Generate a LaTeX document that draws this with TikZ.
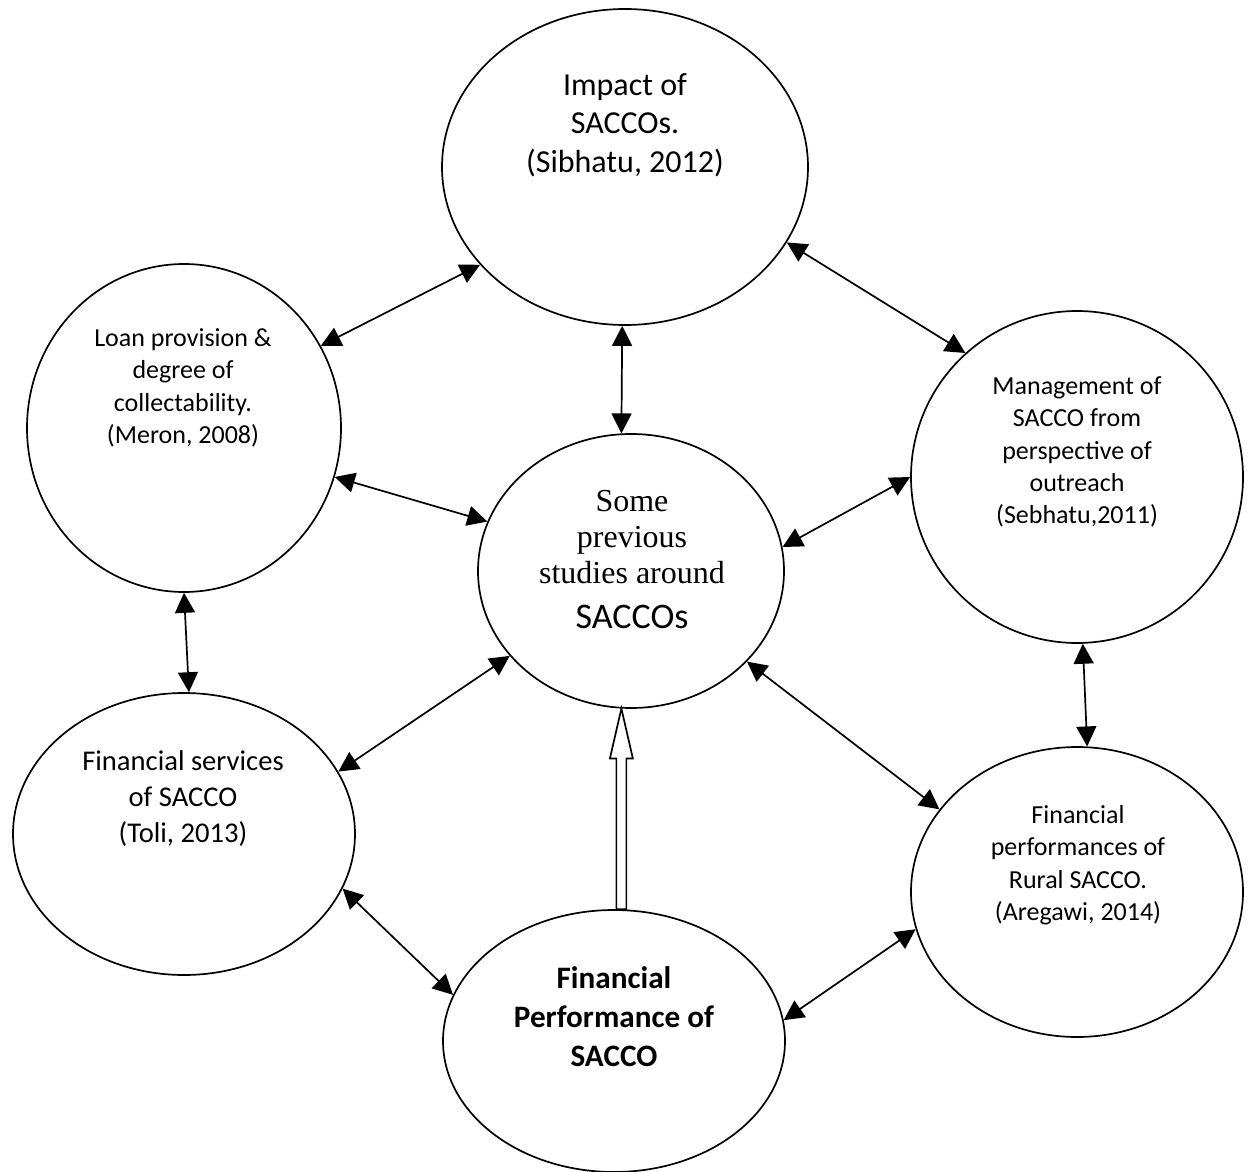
\documentclass[tikz,border=0pt]{standalone}
\usepackage{fontspec}
\setmainfont{Carlito}
\newfontfamily\serifface{Liberation Serif}
\usetikzlibrary{shapes.geometric,arrows.meta,calc}
\begin{document}
\begin{tikzpicture}[x=0.5pt,y=-0.5pt,
  oval/.style={draw, ellipse, line width=0.85pt, inner sep=0pt},
  link/.style={line width=0.85pt, {Triangle[length=10pt,width=10pt]}-{Triangle[length=10pt,width=10pt]}},
  lbl/.style={align=center, inner sep=0pt, font=\fontsize{13}{16.2}\selectfont}]
\useasboundingbox (0,0) rectangle (1254,1172);
% ellipses
\node[oval, minimum width=183pt, minimum height=158pt] (top) at (625,167) {};
\node[oval, minimum width=157pt, minimum height=164pt] (loan) at (184,428) {};
\node[oval, minimum width=153pt, minimum height=137pt] (mid) at (631,571) {};
\node[oval, minimum width=166pt, minimum height=166pt] (mgmt) at (1077,477) {};
\node[oval, minimum width=171pt, minimum height=141pt] (serv) at (184,834) {};
\node[oval, minimum width=166pt, minimum height=145pt] (rural) at (1077,892) {};
\node[oval, minimum width=171pt, minimum height=131pt] (perf) at (614,1041) {};
% texts
\node[lbl, font=\fontsize{16}{19.25}\selectfont] (ttop) at (625,125) {Impact of\\SACCOs.\\(Sibhatu, 2012)};
\node[lbl] (tloan) at (183,388) {Loan provision \&\\degree of\\collectability.\\(Meron, 2008)};
\node[lbl] (tmgmt) at (1077,452) {Management of\\SACCO from\\perspective of\\outreach\\(Sebhatu,2011)};
\node[lbl, font=\serifface\fontsize{16}{18}\selectfont] (tmid) at (632,537) {Some\\previous\\studies around};
\node[inner sep=0pt, anchor=base, font=\fontsize{18}{21}\selectfont] (tsac) at (632,628) {SACCOs};
\node[lbl, font=\fontsize{14.3}{18}\selectfont] (tserv) at (183,799) {Financial services\\of SACCO\\(Toli, 2013)};
\node[lbl] (trur) at (1078,865) {Financial\\performances of\\Rural SACCO.\\(Aregawi, 2014)};
\node[lbl, font=\bfseries\fontsize{15.6}{19.5}\selectfont] (tperf) at (614,1017) {Financial\\Performance of\\SACCO};
% connectors
\draw[link] (top.214) -- (loan.31);
\draw[link] (top.-25) -- (mgmt.132);
\draw[link] (top.-91) -- (mid.94);
\draw[link] (loan.-18) -- (mid.161);
\draw[link] (mid.9.5) -- (mgmt.180);
\draw[link] (loan.-90) -- (serv.88);
\draw[link] (mid.215.5) -- (serv.22.7);
\draw[link] (mid.-38.4) -- (rural.149.7);
\draw[link] (mgmt.-88) -- (rural.86);
\draw[link] (serv.-19.5) -- (perf.164.7);
\draw[link] (perf.7.7) -- (rural.193.8);
% hollow arrow
\coordinate (ha) at (mid.266);
\coordinate (hb) at (perf.87);
\draw[line width=0.85pt, fill=white, line join=miter]
  ($(ha)+(-5,50)$) -- ($(ha |- hb)+(-5,0)$) -- ($(ha |- hb)+(5,0)$) -- ($(ha)+(5,50)$)
  -- ($(ha)+(11.5,50)$) -- (ha) -- ($(ha)+(-11.5,50)$) -- cycle;
\end{tikzpicture}
\end{document}
